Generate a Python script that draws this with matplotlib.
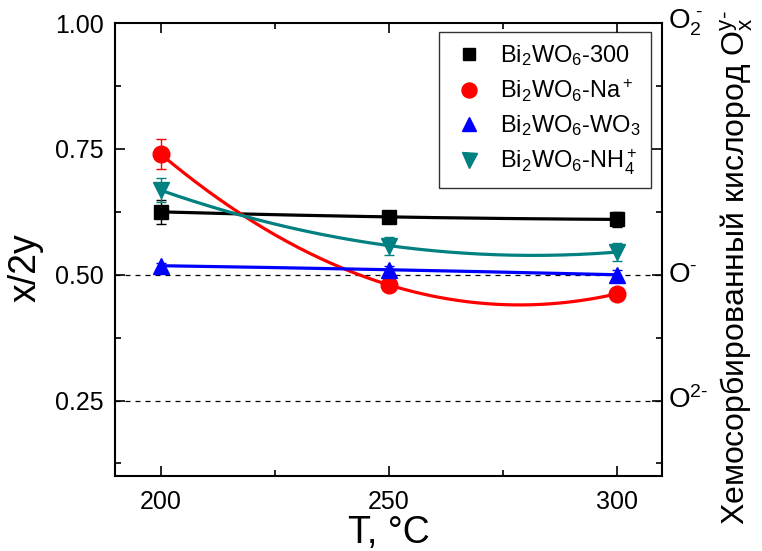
import numpy as np
import matplotlib
matplotlib.use("Agg")
import matplotlib.pyplot as plt
from matplotlib.ticker import MultipleLocator

plt.rcParams['font.family'] = ['Liberation Sans', 'DejaVu Sans']
plt.rcParams['mathtext.fontset'] = 'custom'
plt.rcParams['mathtext.rm'] = 'Liberation Sans'
plt.rcParams['mathtext.it'] = 'Liberation Sans'
plt.rcParams['mathtext.bf'] = 'Liberation Sans'

T = [200, 250, 300]
s300 = [0.625, 0.615, 0.610]
s300_err = [0.024, 0.009, 0.015]
sNa = [0.740, 0.480, 0.462]
sNa_err = [0.030, 0.006, 0.006]
sWO3 = [0.518, 0.510, 0.500]
sWO3_err = [0.006, 0.008, 0.010]
sNH4 = [0.668, 0.558, 0.545]
sNH4_err = [0.024, 0.018, 0.018]

labels = [r'Bi$_2$WO$_6$-300', r'Bi$_2$WO$_6$-Na$^+$', r'Bi$_2$WO$_6$-WO$_3$', r'Bi$_2$WO$_6$-NH$_4^+$']
colors = ['black', '#ff0000', '#0000ff', '#008080']
markers = ['s', 'o', '^', 'v']
msizes = [10, 12, 11.5, 12]

fig = plt.figure(figsize=(7.62, 5.51), dpi=100)
ax = fig.add_axes([0.151, 0.136, 0.718, 0.822])

xf = np.linspace(200, 300, 200)
series = [(s300, s300_err), (sNa, sNa_err), (sWO3, sWO3_err), (sNH4, sNH4_err)]
handles = []
for (y, e), c, m, ms, lab in zip(series, colors, markers, msizes, labels):
    p = np.polyfit(T, y, 2)
    ax.plot(xf, np.polyval(p, xf), color=c, lw=2.3, zorder=2)
    ax.errorbar(T, y, yerr=e, fmt='none', ecolor=c, elinewidth=1, capsize=3.5, capthick=1, zorder=3)
    h, = ax.plot(T, y, linestyle='none', marker=m, color=c, markersize=ms, zorder=4, label=lab)
    handles.append(h)

for yl in [0.5, 0.25]:
    ax.axhline(yl, color='black', lw=0.9, ls=(0, (4, 4)), zorder=1)

ax.set_xlim(190, 310)
ax.set_ylim(0.1, 1.0)
ax.set_xticks([200, 250, 300])
ax.xaxis.set_minor_locator(MultipleLocator(25))
ax.set_yticks([0.25, 0.5, 0.75, 1.0])
ax.set_yticklabels(['0.25', '0.50', '0.75', '1.00'])
ax.yaxis.set_minor_locator(MultipleLocator(0.125))
ax.tick_params(which='both', direction='in', top=True, right=True, labelsize=18, width=1.2)
ax.tick_params(which='major', length=7)
ax.tick_params(which='minor', length=4)
ax.tick_params(axis='x', pad=10)
ax.tick_params(axis='y', pad=8)
for s in ax.spines.values():
    s.set_linewidth(1.5)

ax.set_xlabel('T, °C', fontsize=27, labelpad=1)
ax.set_ylabel('x/2y', fontsize=27)
ax.yaxis.set_label_coords(-0.13, 0.46)

leg = ax.legend(handles=handles, loc='upper right', fontsize=17, frameon=True, fancybox=False,
                edgecolor='black', borderpad=0.45, labelspacing=0.4, handletextpad=0.5,
                handlelength=1.6, markerscale=0.9, borderaxespad=0,
                bbox_to_anchor=(0.98, 0.98))
leg.get_frame().set_linewidth(1.0)

hy = '\u2010'
tr = ax.get_yaxis_transform()
ax.text(1.01, 1.0, r'O$_2^{\ ' + hy + '}$', transform=tr, fontsize=20, va='center', ha='left')
ax.text(1.01, 0.5, r'O$^{' + hy + '}$', transform=tr, fontsize=20, va='center', ha='left')
ax.text(1.01, 0.25, r'O$^{2' + hy + '}$', transform=tr, fontsize=20, va='center', ha='left')
fig.text(0.967, 0.514, r'Хемосорбированный кислород O$_\mathrm{x}^\mathrm{y' + hy + '}$', rotation=90,
         fontsize=23, va='center', ha='center')

fig.savefig('out.png', dpi=100)
